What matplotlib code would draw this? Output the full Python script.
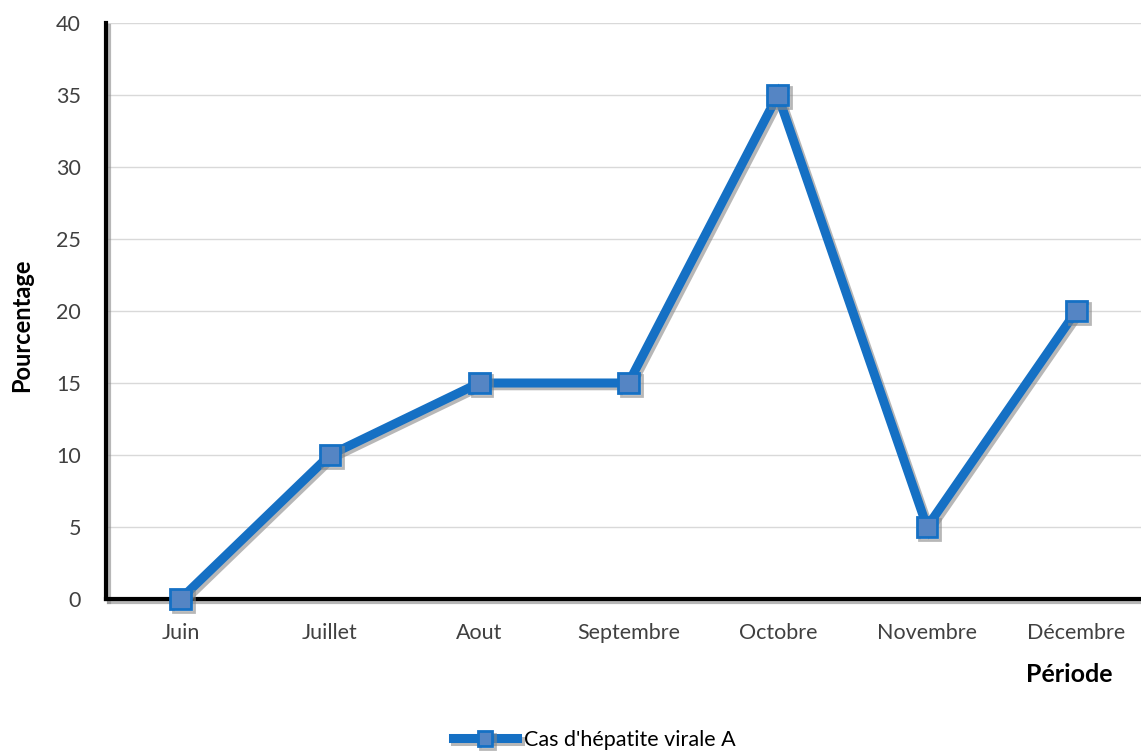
import matplotlib.pyplot as plt
import matplotlib.patheffects as pe
import numpy as np

plt.rcParams['font.family'] = ['Lato', 'DejaVu Sans']

mois = ["Juin", "Juillet", "Aout", "Septembre", "Octobre", "Novembre", "Décembre"]
pourcentage = [0, 10, 15, 15, 35, 5, 20]
yticks = [0, 5, 10, 15, 20, 25, 30, 35, 40]

fig = plt.figure(figsize=(11.41, 7.51), dpi=100)
# plot area is clipped on the right in the original
ax = fig.add_axes([106 / 1141, 152 / 751, 1045 / 1141, 576 / 751])

x = np.arange(len(mois))
shadow = [pe.SimpleLineShadow(offset=(2, -2), shadow_color="#888888", alpha=0.6), pe.Normal()]
ax.plot(x, pourcentage, color="#1570c4", lw=6.5, marker="s", ms=15,
        mfc="#5585c4", mec="#1570c4", mew=2, solid_joinstyle="miter",
        label="Cas d'hépatite virale A", path_effects=shadow, zorder=3, clip_on=False)

ax.set_xlim(-0.5, len(mois) - 0.5)
ax.set_ylim(0, 40)
ax.set_yticks(yticks)
ax.set_xticks(x)
ax.set_xticklabels(mois)
ax.tick_params(axis="both", length=0, labelsize=15.5, colors="#404040")
ax.tick_params(axis="x", pad=17)
ax.tick_params(axis="y", pad=18)
ax.grid(axis="y", color="#d9d9d9", lw=1)
ax.set_axisbelow(True)

for s in ["top", "right"]:
    ax.spines[s].set_visible(False)
for s in ["left", "bottom"]:
    ax.spines[s].set_linewidth(3)
    ax.spines[s].set_color("black")
    ax.spines[s].set_path_effects([pe.SimpleLineShadow(offset=(2, -2), shadow_color="#888888", alpha=0.6), pe.Normal()])

fig.text(22 / 1141, 1 - 325 / 751, "Pourcentage", rotation=90, ha="center", va="center",
         fontsize=17, fontweight="bold")
fig.text(1069 / 1141, 1 - 675 / 751, "Période", ha="center", va="center",
         fontsize=18, fontweight="bold")

fig.legend(loc="center", bbox_to_anchor=(594 / 1141, 1 - 740 / 751), frameon=False,
           fontsize=15.5, handlelength=3.0, handletextpad=0.3, markerscale=0.7)

fig.savefig("out.png", dpi=100)
